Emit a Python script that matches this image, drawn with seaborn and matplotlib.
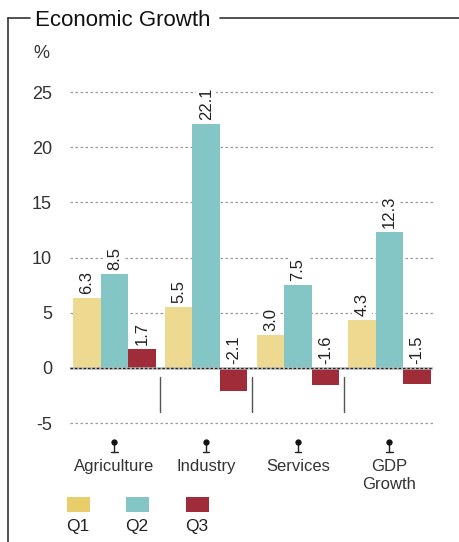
import matplotlib
matplotlib.use("Agg")
import matplotlib.pyplot as plt
import seaborn as sns
import pandas as pd
from matplotlib.patches import Rectangle
from matplotlib.lines import Line2D
import matplotlib.transforms as mtransforms

categories = ["Agriculture", "Industry", "Services", "GDP\nGrowth"]
quarters = ["Q1", "Q2", "Q3"]
q1 = [6.3, 5.5, 3.0, 4.3]
q2 = [8.5, 22.1, 7.5, 12.3]
q3 = [1.7, -2.1, -1.6, -1.5]
yticks = [-5, 0, 5, 10, 15, 20, 25]

bar_colors = ["#EDD98F", "#84C5C5", "#A02C3A"]
legend_colors = ["#E7CE6A", "#84C5C5", "#A02C3A"]

rows = []
for q, vals in zip(quarters, [q1, q2, q3]):
    for c, v in zip(categories, vals):
        rows.append({"sector": c, "quarter": q, "value": v})
df = pd.DataFrame(rows)

sns.set_theme(style="white")
plt.rcParams["font.family"] = ["Liberation Sans", "DejaVu Sans"]

W, H = 459, 542
fig = plt.figure(figsize=(W / 100, H / 100), dpi=100)

def fx(x):
    return x / W

def fy(y):
    return 1 - y / H

ax_left, ax_right, ax_top, ax_bot = 70, 433, 80, 430
ax = fig.add_axes([fx(ax_left), fy(ax_bot), (ax_right - ax_left) / W, (ax_bot - ax_top) / H])

sns.barplot(data=df, x="sector", y="value", hue="quarter", order=categories,
            hue_order=quarters, palette=bar_colors, width=0.9, saturation=1,
            legend=False, ax=ax, zorder=2, linewidth=0, edgecolor="none")

ax.set_xlim(-0.485, 3.4745)
ax.set_ylim(-5.634, 26.088)
for s in ax.spines.values():
    s.set_visible(False)

ax.set_yticks(yticks)
ax.set_yticklabels([str(t) for t in yticks], fontsize=13, color="#333333")
ax.tick_params(axis="y", length=0, pad=13)
ax.set_xticks(range(len(categories)))
ax.set_xticklabels(categories, fontsize=12, color="#333333", linespacing=1.25)
ax.tick_params(axis="x", length=0, pad=21)
ax.set_xlabel("")
ax.set_ylabel("")

for t in yticks:
    if t != 0:
        ax.axhline(t, color="#9a9a9a", lw=0.9, linestyle=(0, (2, 2)), zorder=1)
ax.axhline(0, color="#bbbbbb", lw=1.8, zorder=3)
ax.axhline(0, color="#222222", lw=0.9, linestyle=(0, (2, 1.5)), zorder=3)

# value labels
for cont, vals in zip(ax.containers, [q1, q2, q3]):
    for patch, v in zip(cont.patches, vals):
        xc = patch.get_x() + patch.get_width() / 2
        base = max(v, 0)
        ax.annotate(f"{v:.1f}", (xc, base), xytext=(0, 3), textcoords="offset points",
                    rotation=90, ha="center", va="bottom", fontsize=12, color="#222222",
                    bbox=dict(boxstyle="square,pad=0.15", fc="white", ec="none"), zorder=4)

# separators between groups
for xs in [0.5, 1.5, 2.5]:
    ax.plot([xs, xs], [-0.8, -4.0], color="#555555", lw=1.0, zorder=3)

# pins under categories
trans = mtransforms.blended_transform_factory(ax.transData, ax.transAxes)
hpx = ax_bot - ax_top
for i in range(len(categories)):
    ax.plot([i, i], [-12 / hpx, -22 / hpx], color="#222222", lw=1.0, transform=trans, clip_on=False)
    ax.plot([i], [-12 / hpx], marker="o", ms=3.5, color="#111111", transform=trans, clip_on=False)
    ax.plot([i - 0.035, i + 0.035], [-22 / hpx, -22 / hpx], color="#222222", lw=1.0,
            transform=trans, clip_on=False)

# "%" unit
fig.text(fx(41), fy(53), "%", fontsize=13, color="#333333", ha="center", va="center")

# title & frame
fig.text(fx(35), fy(26), "Economic Growth", fontsize=16, color="#111111", ha="left", va="baseline")
frame_kw = dict(color="#333333", lw=1.2, transform=fig.transFigure)
fig.add_artist(Line2D([fx(8), fx(8)], [fy(18), fy(545)], **frame_kw))
fig.add_artist(Line2D([fx(8), fx(30)], [fy(18), fy(18)], **frame_kw))
fig.add_artist(Line2D([fx(220), fx(459)], [fy(18), fy(18)], **frame_kw))

# legend
for i, (q, col) in enumerate(zip(quarters, legend_colors)):
    x0 = [67, 126, 186][i]
    fig.add_artist(Rectangle((fx(x0), fy(512)), 23 / W, 15 / H, transform=fig.transFigure,
                             fc=col, ec="none"))
    fig.text(fx(x0 + 11), fy(527), q, fontsize=12.5, color="#222222", ha="center", va="center")

fig.savefig("out.png", dpi=100)
